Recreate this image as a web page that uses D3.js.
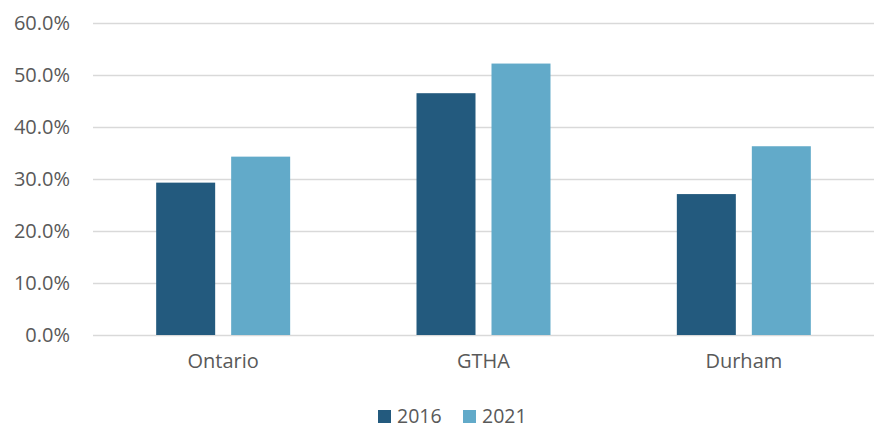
<!DOCTYPE html>
<html>
<head>
<meta charset="utf-8">
<script src="https://cdn.jsdelivr.net/npm/d3@7"></script>
<style>
  body { margin: 0; background: #fff; }
  svg text { font-family: "Open Sans", sans-serif; fill: #595959; }
</style>
</head>
<body>
<div id="container"></div>
<script>
// chart data
let categories = ["Ontario", "GTHA", "Durham"];
let seriesNames = ["2016", "2021"];
let values2016 = [0.293, 0.465, 0.271];
let values2021 = [0.343, 0.522, 0.363];
let yTicks = [0, 0.1, 0.2, 0.3, 0.4, 0.5, 0.6];
let colors = ["#235a7e", "#62aac9"];

let width = 874, height = 429;
let margin = {top: 23, right: 0, bottom: 94, left: 93};
let plotW = width - margin.left - margin.right,
	plotH = height - margin.top - margin.bottom;

let svg = d3.select("div#container").append("svg")
	.attr("width", width)
	.attr("height", height);

let g = svg.append("g")
	.attr("transform", "translate(" + margin.left + "," + margin.top + ")");

// scales
let yScale = d3.scaleLinear().domain([0, 0.6]).range([plotH, 0]);
let x0 = d3.scaleBand().domain(categories).range([0, plotW])
	.paddingInner(0.4853).paddingOuter(0.4853 / 2);
let x1 = d3.scaleBand().domain(seriesNames).range([0, x0.bandwidth()])
	.paddingInner(0.2133).paddingOuter(0);

// gridlines + y labels
let yAxis = d3.axisLeft(yScale)
	.tickValues(yTicks)
	.tickSize(-plotW)
	.tickPadding(23)
	.tickFormat(d3.format(".1%"));
let yg = g.append("g").call(yAxis);
yg.select(".domain").remove();
yg.selectAll(".tick line").attr("stroke", "#d9d9d9").attr("stroke-width", 1.5);
yg.selectAll(".tick text").attr("font-size", "20px").attr("fill", "#595959");

// bars
let rows = categories.map((c, i) => ({cat: c, vals: [values2016[i], values2021[i]]}));
let groups = g.selectAll("g.grp").data(rows).enter().append("g")
	.attr("class", "grp")
	.attr("transform", d => "translate(" + x0(d.cat) + ",0)");
groups.selectAll("rect").data(d => d.vals.map((v, j) => ({key: seriesNames[j], v: v, j: j})))
	.enter().append("rect")
	.attr("x", d => x1(d.key))
	.attr("width", x1.bandwidth())
	.attr("y", d => yScale(d.v))
	.attr("height", d => plotH - yScale(d.v))
	.attr("fill", d => colors[d.j]);

// x axis labels
let xAxis = d3.axisBottom(x0).tickSize(0).tickPadding(19);
let xg = g.append("g").attr("transform", "translate(0," + plotH + ")").call(xAxis);
xg.select(".domain").remove();
xg.selectAll(".tick text").attr("font-size", "20px").attr("fill", "#595959");

// legend (kept a bit above the bottom edge so text isn't clipped)
let legendX = [378, 463];
let legend = svg.append("g");
seriesNames.forEach(function(name, i) {
	legend.append("rect")
		.attr("x", legendX[i]).attr("y", 410)
		.attr("width", 13).attr("height", 13)
		.attr("fill", colors[i]);
	legend.append("text")
		.attr("x", legendX[i] + 19).attr("y", 423)
		.attr("font-size", "19.5px")
		.text(name);
});
</script>
</body>
</html>
